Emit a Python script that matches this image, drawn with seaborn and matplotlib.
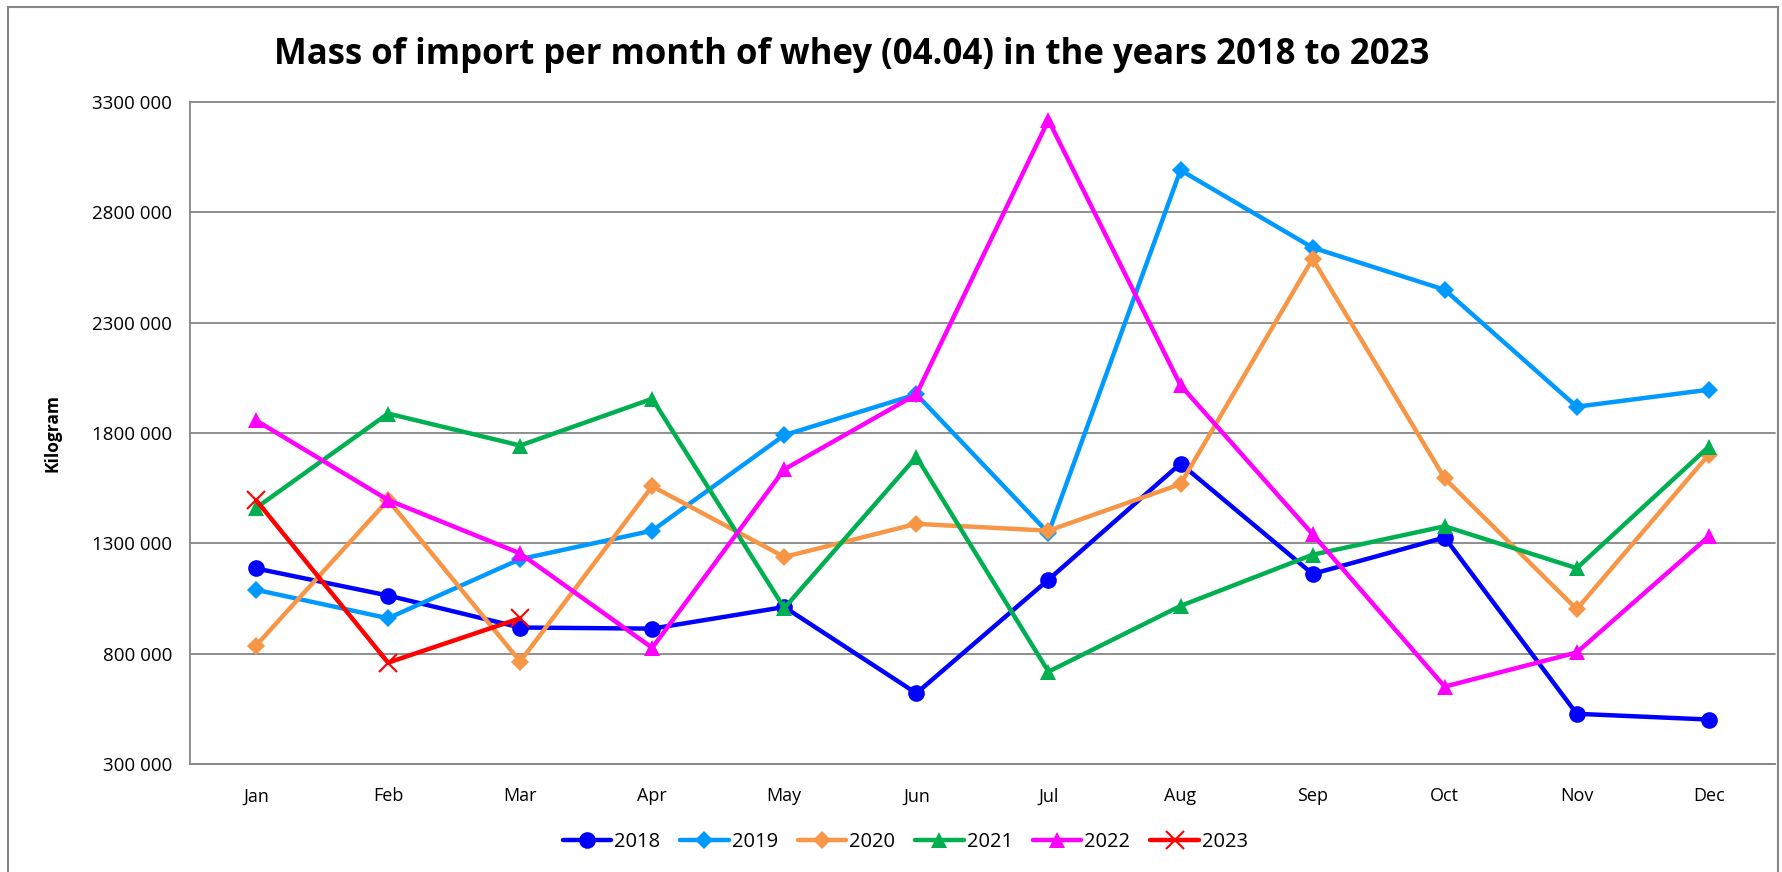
import pandas as pd
import seaborn as sns
import matplotlib.pyplot as plt
from matplotlib.ticker import FuncFormatter
from matplotlib.patches import Rectangle

months = ["Jan", "Feb", "Mar", "Apr", "May", "Jun", "Jul", "Aug", "Sep", "Oct", "Nov", "Dec"]
years = ["2018", "2019", "2020", "2021", "2022", "2023"]
y_ticks = [300000, 800000, 1300000, 1800000, 2300000, 2800000, 3300000]

kg_2018 = [1186000, 1063000, 918000, 913000, 1011000, 620000, 1135000, 1661000, 1161000, 1326000, 527000, 501000]
kg_2019 = [1089000, 960000, 1228000, 1357000, 1790000, 1975000, 1346000, 2991000, 2640000, 2449000, 1919000, 1996000]
kg_2020 = [836000, 1496000, 764000, 1558000, 1238000, 1388000, 1357000, 1568000, 2589000, 1594000, 1001000, 1702000]
kg_2021 = [1460000, 1888000, 1743000, 1955000, 1006000, 1692000, 718000, 1016000, 1248000, 1377000, 1187000, 1738000]
kg_2022 = [1857000, 1496000, 1254000, 826000, 1635000, 1975000, 3218000, 2016000, 1341000, 650000, 805000, 1331000]
kg_2023 = [1496000, 759000, 960000]

colors = {"2018": "#0000ff", "2019": "#0099ff", "2020": "#f79646",
          "2021": "#00b050", "2022": "#ff00ff", "2023": "#ff0000"}
marks = {"2018": "o", "2019": "D", "2020": "D", "2021": "^", "2022": "^", "2023": "x"}

series = [kg_2018, kg_2019, kg_2020, kg_2021, kg_2022, kg_2023]
rows = []
for yr, vals in zip(years, series):
    for i, v in enumerate(vals):
        rows.append([i, months[i], yr, v])
df = pd.DataFrame(rows, columns=["idx", "month", "year", "kg"])

sns.set_style("white")
plt.rcParams["font.family"] = ["Open Sans", "DejaVu Sans"]
plt.rcParams["text.color"] = "black"
plt.rcParams["axes.labelcolor"] = "black"
plt.rcParams["xtick.labelcolor"] = "black"
plt.rcParams["ytick.labelcolor"] = "black"

fig = plt.figure(figsize=(17.82, 8.72), dpi=100)
ax = fig.add_axes([0.1066, 0.124, 0.8894, 0.759])


def marker_kw(yr):
    if yr == "2023":
        return dict(marker="x", markersize=13, markeredgewidth=1.5,
                    markeredgecolor=colors[yr])
    if yr in ("2019", "2020"):
        return dict(marker="D", markersize=9, markeredgewidth=0)
    return dict(marker=marks[yr], markersize=12, markeredgewidth=0)


for yr in years:
    sub = df[df["year"] == yr]
    sns.lineplot(data=sub, x="idx", y="kg", color=colors[yr], linewidth=3.2,
                 ax=ax, legend=False, **marker_kw(yr))

ax.set_xlim(-0.5, 11.5)
ax.set_ylim(300000, 3300000)
ax.set_yticks(y_ticks)
ax.yaxis.set_major_formatter(FuncFormatter(lambda v, p: f"{int(v // 1000)} 000"))
ax.set_xticks(range(12))
ax.set_xticklabels(months)
ax.set_xticks([i - 0.5 for i in range(13)], minor=True)
ax.tick_params(axis="x", which="major", length=0, pad=17, labelsize=13)
ax.tick_params(axis="x", which="minor", length=7, color="#868686", width=1.2)
ax.tick_params(axis="y", which="major", length=7, color="#868686", width=1.2,
               labelsize=13.5, pad=6)
ax.grid(axis="y", color="#868686", linewidth=1.3, clip_on=False)
ax.set_axisbelow(True)
for s in ["top", "right"]:
    ax.spines[s].set_visible(False)
for s in ["left", "bottom"]:
    ax.spines[s].set_color("#868686")
    ax.spines[s].set_linewidth(1.3)
ax.set_xlabel("")
ax.set_ylabel("Kilogram", fontsize=12.5, fontweight="bold", labelpad=22)

fig.text(0.478, 0.937, "Mass of import per month of whey (04.04) in the years 2018 to 2023",
         ha="center", va="center", fontsize=25, fontweight="bold")

handles = [plt.Line2D([], [], color=colors[y], linewidth=3.2, **marker_kw(y)) for y in years]
fig.legend(handles, years, loc="center", bbox_to_anchor=(0.508, 0.034), ncol=6,
           frameon=False, fontsize=14.5, handlelength=2.4, columnspacing=1.0,
           handletextpad=0.15)

fig.add_artist(Rectangle((0.0045, -0.02), 0.993, 1.012, transform=fig.transFigure,
                         fill=False, edgecolor="#868686", linewidth=1.5))

fig.savefig("out.png", dpi=100)
